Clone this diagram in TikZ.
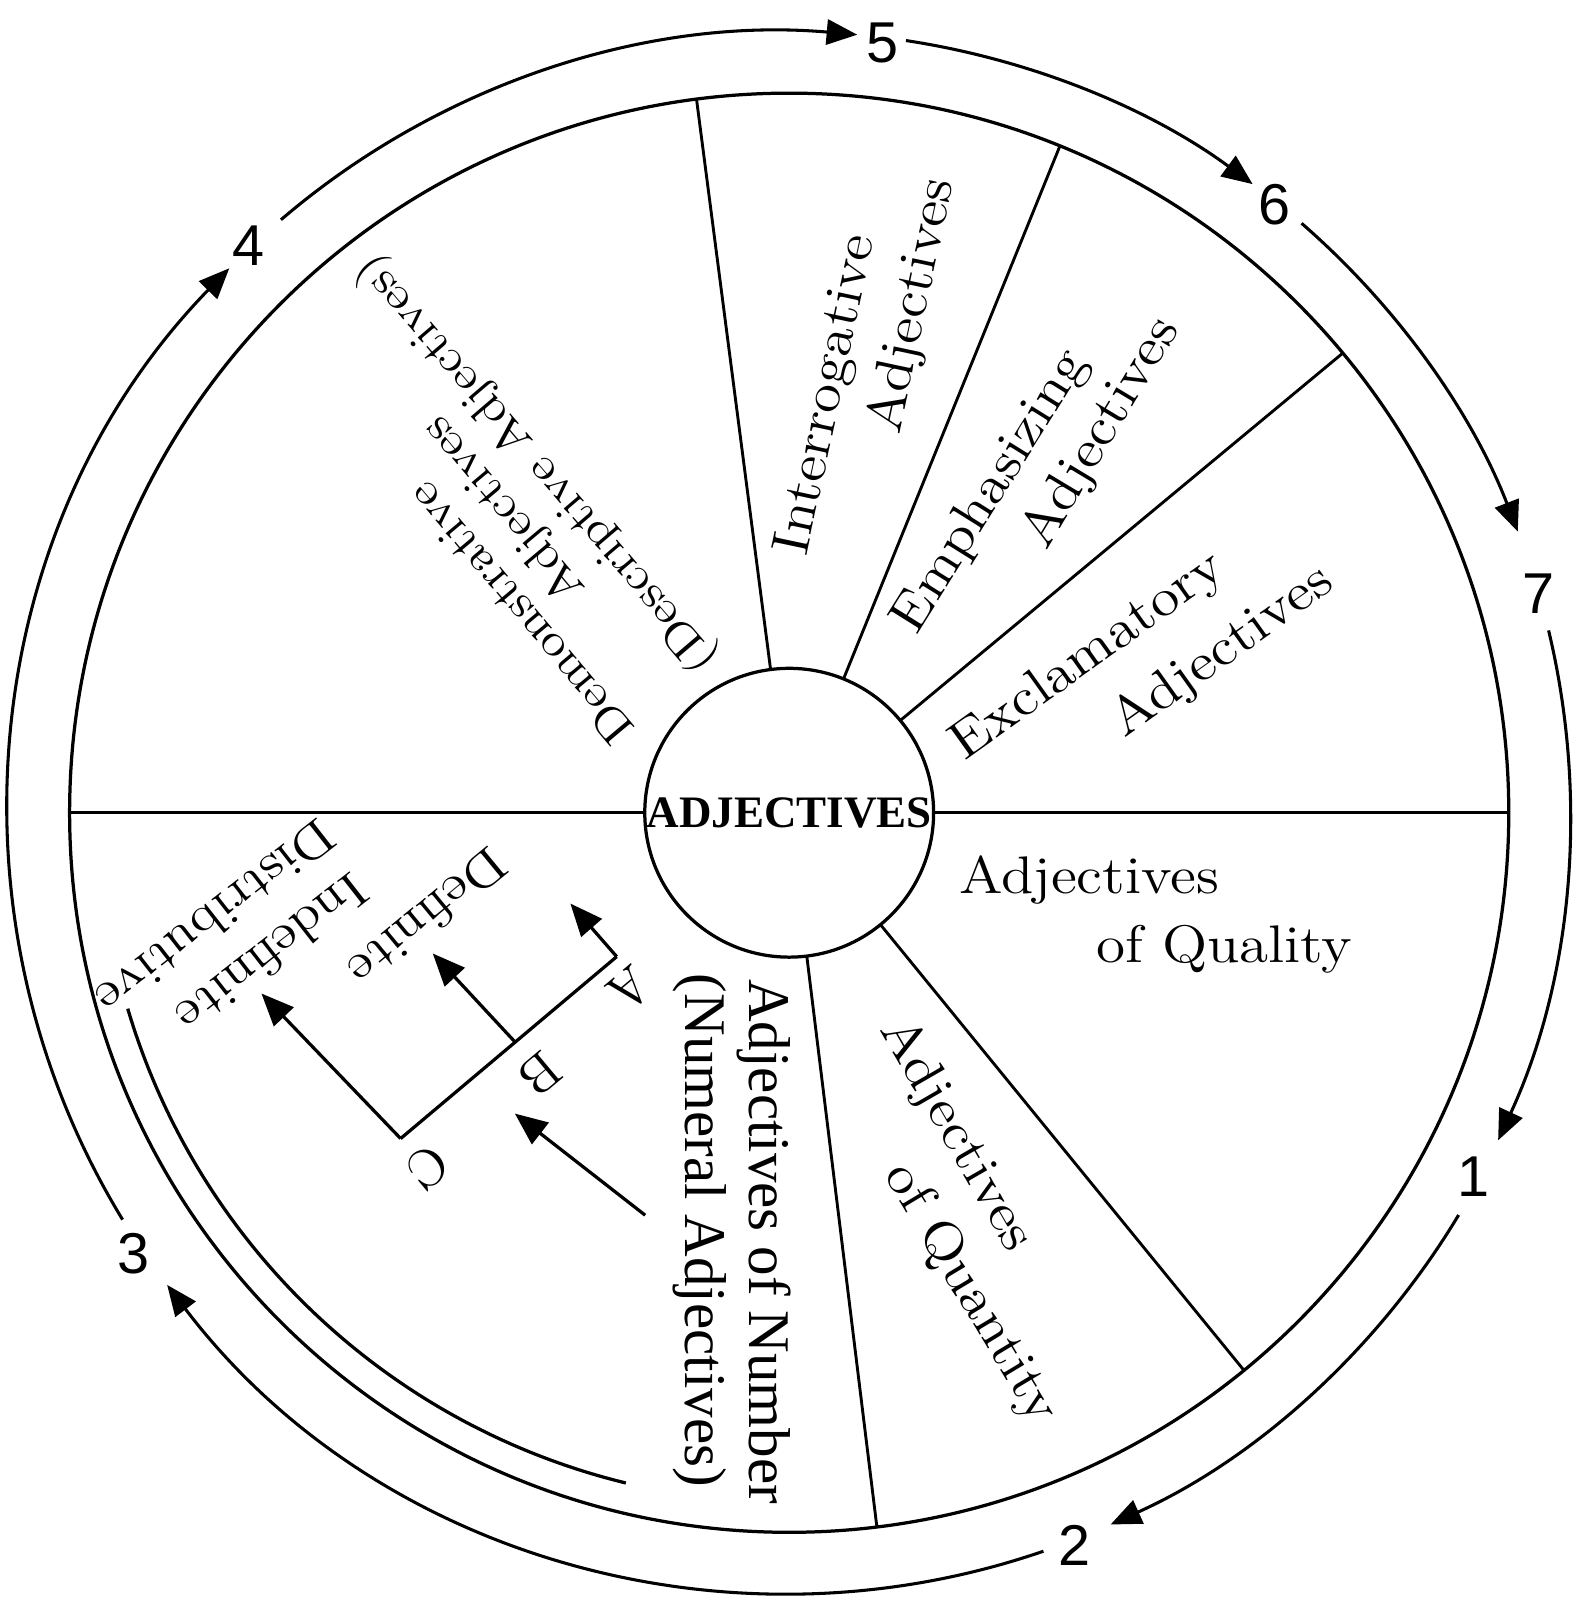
\documentclass[tikz,border=0pt]{standalone}
\usepackage{fontspec}
\usepackage{graphicx}
\usetikzlibrary{arrows.meta,calc}
\newfontfamily\numfont{Liberation Sans}
\newfontfamily\timesfont{Liberation Serif}
% slightly widened roman lettering
\newcommand{\stretchtxt}[1]{\scalebox{1.12}[1]{#1}}

\tikzset{
  rim/.style={line width=0.9pt},
  spoke/.style={line width=0.8pt},
  cyc/.style={line width=0.85pt, -{Triangle[length=8.5pt,width=7pt]}},
  seq/.style={font=\numfont\fontsize{16}{18}\selectfont, inner sep=0pt},
  lbl/.style={font=\fontsize{14.7}{17}\selectfont, inner sep=0pt},
  lblsm/.style={font=\fontsize{12.9}{15}\selectfont, inner sep=0pt},
  lblll/.style={font=\fontsize{13.9}{17}\selectfont, inner sep=0pt},
  lbltm/.style={font=\timesfont\fontsize{16.4}{19}\selectfont, inner sep=0pt},
  brk/.style={line width=0.9pt},
  brkarrow/.style={line width=0.9pt, -{Triangle[length=9pt,width=7.5pt]}},
}

\begin{document}
\begin{tikzpicture}[x=0.01cm,y=0.01cm]
\useasboundingbox (0,0) rectangle (1536,1568);
\coordinate (O) at (771,774);

% outer wheel and hub
\draw[rim] (O) circle[radius=703];
\node[circle, draw, rim, minimum size=2.82cm, inner sep=0pt] (hub) at (O)
  {\timesfont\bfseries\fontsize{12.5}{14}\selectfont ADJECTIVES};

% spokes
\foreach \a in {97.4,67.9,39.7,0,-50.8,-83,180}
  \draw[spoke] ($(O)+(\a:141)$) -- ($(O)+(\a:703)$);

% inner arc beside the lower-left sector
\draw[rim] ($(O)+(-163.5:674)$) arc[start angle=-163.5, end angle=-103.7, radius=674];

% sequence ring: 1 -> 2 -> ... -> 7 -> 1
\draw[cyc] ($(O)+(-31:763)$)   arc[start angle=-31,   end angle=-65.7,  radius=763];
\draw[cyc] ($(O)+(-71:763)$)   arc[start angle=-71,   end angle=-142.8, radius=763];
\draw[cyc] ($(O)+(211.4:763)$) arc[start angle=211.4, end angle=135.8,  radius=763];
\draw[cyc] ($(O)+(130.6:763)$) arc[start angle=130.6, end angle=85,     radius=763];
\draw[cyc] ($(O)+(81.4:763)$)  arc[start angle=81.4,  end angle=53.6,   radius=763];
\draw[cyc] ($(O)+(49:763)$)    arc[start angle=49,    end angle=21.1,   radius=763];
\draw[cyc] ($(O)+(13.5:763)$)  arc[start angle=13.5,  end angle=-24.8,  radius=763];

\node[seq] (n1) at (1440,418) {1};
\node[seq] (n2) at (1050,58) {2};
\node[seq] (n3) at (130,343) {3};
\node[seq] (n4) at (243,1328) {4};
\node[seq] (n5) at (862,1526) {5};
\node[seq] (n6) at (1245,1368) {6};
\node[seq] (n7) at (1503,988) {7};

% sector labels
\node[lbl] (qual1) at (1064,708) {\stretchtxt{Adjectives}};
\node[lbl] (qual2) at (1196,641) {\stretchtxt{of Quality}};
\node[lbl, rotate=35.5] (excl1) at (1063,926) {\stretchtxt{Exclamatory}};
\node[lbl, rotate=35.5] (excl2) at (1194,931) {\stretchtxt{Adjectives}};
\node[lbl, rotate=58] (emph1) at (968,1087) {\stretchtxt{Emphasizing}};
\node[lbl, rotate=59] (emph2) at (1076,1145) {\stretchtxt{Adjectives}};
\node[lbl, rotate=78] (intr1) at (809,1182) {\stretchtxt{Interrogative}};
\node[lbl, rotate=78] (intr2) at (892,1269) {\stretchtxt{Adjectives}};
\node[lblsm, rotate=130] (dem1) at (508,968) {\stretchtxt{Demonstrative}};
\node[lblsm, rotate=130] (dem2) at (493,1071) {\stretchtxt{Adjectives}};
\node[lblsm, rotate=130.5] (dem3) at (525,1115) {\stretchtxt{(Descriptive Adjectives)}};
\node[lbl, rotate=-60] (quan1) at (934,459) {\stretchtxt{Adjectives}};
\node[lbl, rotate=-59] (quan2) at (948,304) {\stretchtxt{of Quantity}};
\node[lbltm, rotate=-90] (num1) at (746,355) {Adjectives of Number};
\node[lbltm, rotate=-90] (num2) at (684,366) {(Numeral Adjectives)};
\node[lblll, rotate=218] (dist) at (211,671) {\stretchtxt{Distributive}};
\node[lblll, rotate=218] (indef) at (266,636) {\stretchtxt{Indefinite}};
\node[lblll, rotate=219.5] (def) at (418,671) {\stretchtxt{Definite}};
\node[lbl, rotate=220] (la) at (615,601) {A};
\node[lbl, rotate=220] (lb) at (528,519) {B};
\node[lbl, rotate=220] (lc) at (418,428) {C};

% A-B-C bracket
\coordinate (ca) at (602.5,633.4);
\coordinate (cc) at (391.4,455.7);
\coordinate (cb) at ($(cc)!0.53!(ca)$);
\coordinate (ta) at (557.2,685.3);
\coordinate (tb) at (422.8,636.5);
\coordinate (tc) at (255.4,597.4);
\draw[brk] (cc) -- (ca);
\draw[brkarrow] (ca) -- (ta);
\draw[brkarrow] (cb) -- (tb);
\draw[brkarrow] (cc) -- (tc);
\coordinate (s0) at (630.3,380.8);
\coordinate (s1) at (503,480.1);
\draw[brkarrow] (s0) -- (s1);
\end{tikzpicture}
\end{document}
